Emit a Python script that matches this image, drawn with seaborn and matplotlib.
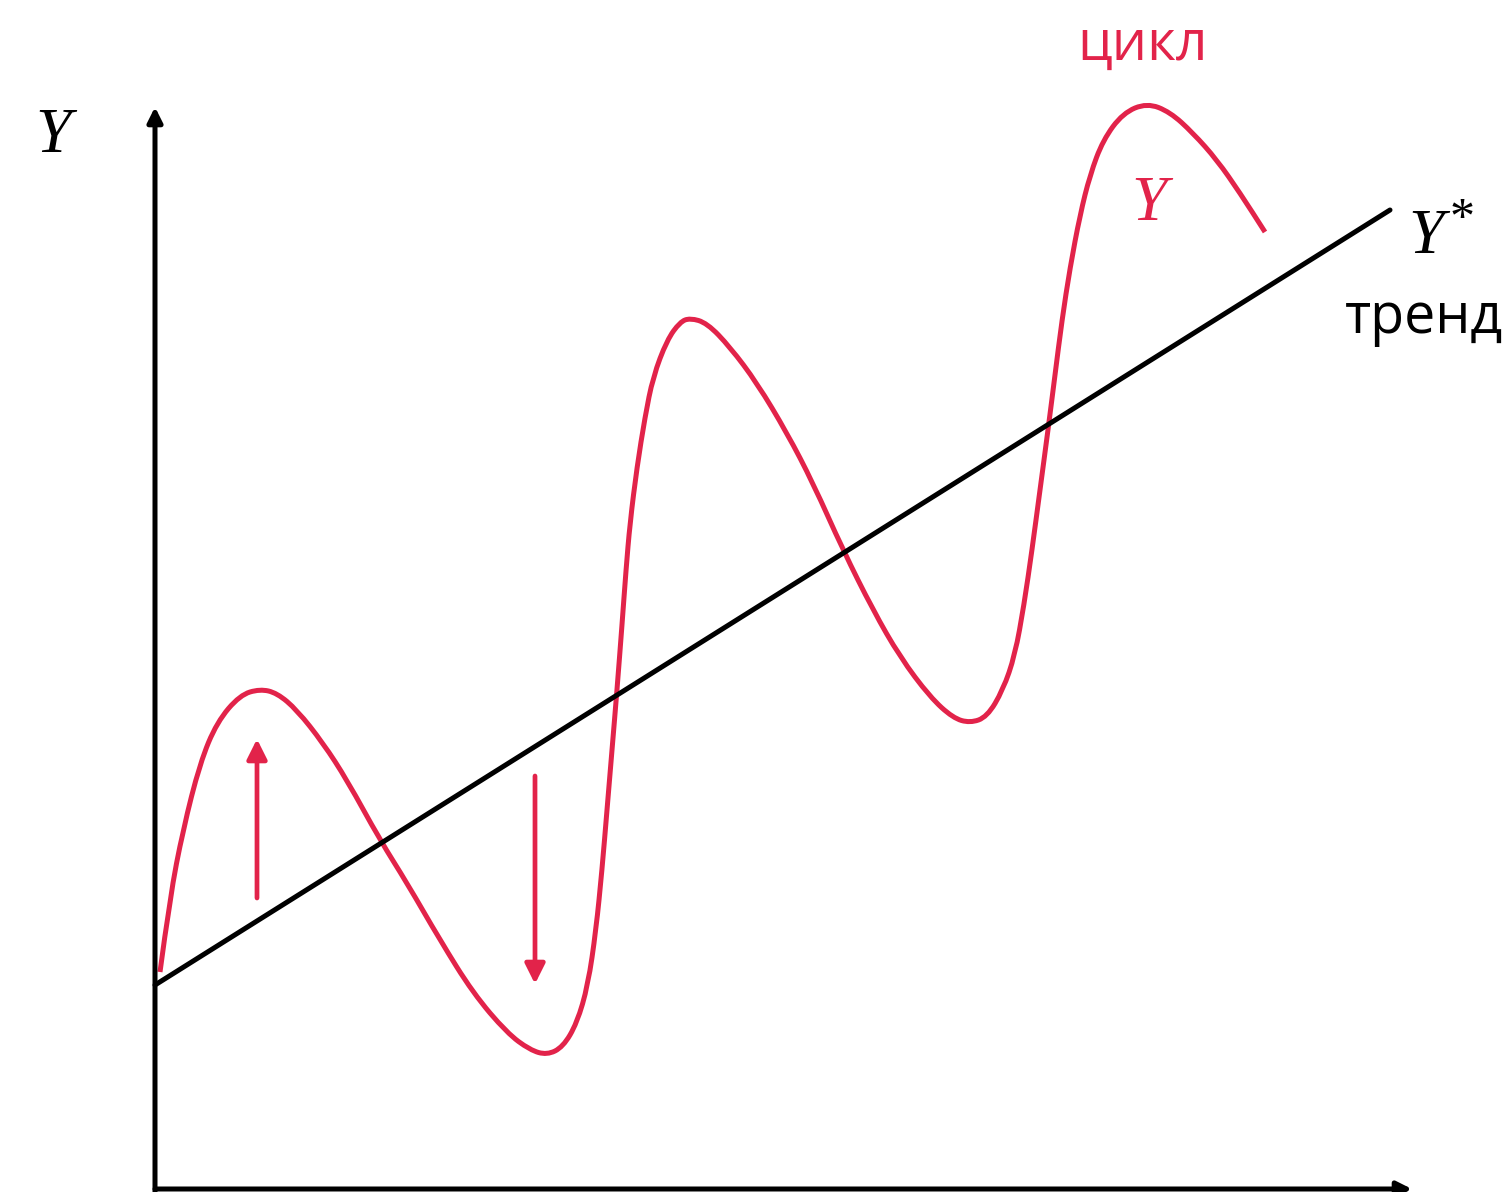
import matplotlib
matplotlib.use("Agg")
import matplotlib.pyplot as plt
from matplotlib.path import Path
from matplotlib.patches import PathPatch
import seaborn as sns
import pandas as pd

sns.set_theme(style="white")
plt.rcParams['font.family'] = ['Open Sans', 'DejaVu Sans']

RED = "#E2234A"

# ---- data (pixel-like units, y grows downward) ----
cycle_x = [160, 170, 183, 200, 217, 240, 260, 277, 297, 323, 347, 380,
           407, 440, 473, 507, 530, 547, 563, 577, 588, 596, 602, 607, 612,
           617, 622, 626, 630, 637, 645, 653, 667, 680, 690, 707, 730, 757,
           787, 813, 843, 873, 900, 930, 953, 970, 987, 1003, 1015, 1024,
           1032, 1040, 1048, 1055, 1062, 1070, 1080, 1090, 1103, 1123, 1147,
           1170, 1193, 1217, 1240, 1265]
cycle_y = [972, 897, 830, 763, 722, 695, 689, 693, 710, 743, 780, 840,
           883, 940, 993, 1033, 1050, 1055, 1047, 1023, 985, 930, 870, 810, 750,
           690, 625, 570, 523, 467, 417, 377, 340, 322, 318, 323, 347, 383,
           433, 483, 550, 610, 657, 697, 718, 723, 717, 690, 655, 605,
           550, 490, 430, 375, 320, 268, 215, 175, 140, 113, 103,
           112, 133, 160, 193, 232]

trend_x = [155, 1390]
trend_y = [985, 210]

# arrows: (x, y_from, y_to)
up_arrow = (257, 898, 739)
down_arrow = (535, 776, 984)
y_axis = (155, 1192, 107)
x_axis = (1189, 155, 1412)

fig = plt.figure(figsize=(15.12, 11.92), dpi=100)
ax = fig.add_axes([0, 0, 1, 1])
ax.set_xlim(0, 1512)
ax.set_ylim(1192, 0)
ax.axis('off')

lw = 3.6

# axes with arrowheads
ax.annotate('', xy=(y_axis[0], y_axis[2]), xytext=(y_axis[0], y_axis[1]),
            arrowprops=dict(arrowstyle='-|>', color='black', lw=lw,
                            mutation_scale=22, shrinkA=0, shrinkB=0))
ax.annotate('', xy=(x_axis[2], x_axis[0]), xytext=(x_axis[1], x_axis[0]),
            arrowprops=dict(arrowstyle='-|>', color='black', lw=lw,
                            mutation_scale=22, shrinkA=0, shrinkB=0))

# trend line
df_trend = pd.DataFrame({'x': trend_x, 'y': trend_y})
sns.lineplot(data=df_trend, x='x', y='y', color='black', lw=lw, ax=ax,
             sort=False, estimator=None)

# cycle curve: read points used as quadratic Bezier controls (smooth rendering)
pts = list(zip(cycle_x, cycle_y))
verts = [pts[0]]
codes = [Path.MOVETO]
for i in range(1, len(pts) - 1):
    mid = ((pts[i][0] + pts[i + 1][0]) / 2, (pts[i][1] + pts[i + 1][1]) / 2)
    verts += [pts[i], mid]
    codes += [Path.CURVE3, Path.CURVE3]
verts.append(pts[-1])
codes.append(Path.LINETO)
ax.add_patch(PathPatch(Path(verts, codes), facecolor='none', edgecolor=RED,
                       lw=lw, capstyle='butt', joinstyle='round'))

# red arrows
for (xa, y0, y1) in (up_arrow, down_arrow):
    ax.annotate('', xy=(xa, y1), xytext=(xa, y0),
                arrowprops=dict(arrowstyle='-|>', color=RED, lw=3.4,
                                mutation_scale=30, shrinkA=0, shrinkB=0))

ax.set_xlim(0, 1512)
ax.set_ylim(1192, 0)
ax.axis('off')

# texts
ax.text(35, 152, 'Y', family='Liberation Serif', style='italic', fontsize=46,
        color='black', ha='left', va='baseline')
ax.text(1077, 60, 'цикл', color=RED, fontsize=40, ha='left', va='baseline')
ax.text(1131, 220, 'Y', family='Liberation Serif', style='italic', fontsize=46,
        color=RED, ha='left', va='baseline')
ax.text(1408, 253, 'Y', family='Liberation Serif', style='italic', fontsize=46,
        color='black', ha='left', va='baseline')
ax.text(1450, 232, '*', family='Liberation Serif', fontsize=36,
        color='black', ha='left', va='baseline')
ax.text(1345, 333, 'тренд', color='black', fontsize=40, ha='left', va='baseline')

fig.savefig('out.png', dpi=100)
